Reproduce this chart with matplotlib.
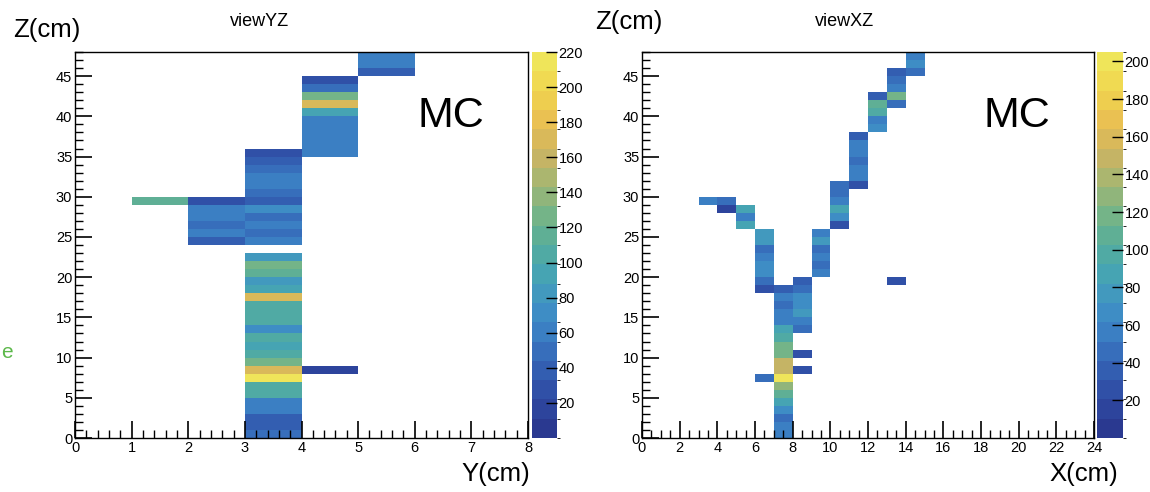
import numpy as np
import matplotlib
matplotlib.use("Agg")
import matplotlib.pyplot as plt
from matplotlib.colors import LinearSegmentedColormap, BoundaryNorm
from matplotlib.ticker import MultipleLocator

plt.rcParams["font.family"] = ["Liberation Sans", "DejaVu Sans"]

# viewYZ: one entry per run of cells (column bin, first Z bin, values going up)
YZ_COLUMNS = [1, 2, 3, 3, 4, 4, 5]
YZ_Z_START = [29, 24, 0, 24, 8, 35, 45]
YZ_VALUES = [
    [110],
    [35, 55, 50, 60, 60, 30],
    [45, 40, 40, 55, 65, 105, 105, 215, 170, 125, 105, 90, 100, 70, 105, 105,
     105, 170, 90, 80, 115, 125, 85],
    [65, 50, 60, 45, 75, 40, 45, 55, 55, 45, 40, 30],
    [15],
    [55, 55, 55, 55, 55, 95, 165, 125, 45, 30],
    [40, 55, 55],
]

# viewXZ
XZ_COLUMNS = [3, 4, 5, 6, 6, 7, 8, 8, 8, 9, 10, 11, 12, 13, 13, 14]
XZ_Z_START = [29, 28, 26, 18, 7, 0, 13, 10, 8, 20, 26, 31, 38, 41, 19, 45]
XZ_VALUES = [
    [60],
    [15, 50],
    [85, 60, 85],
    [30, 45, 65, 62, 55, 45, 78, 75],
    [45],
    [55, 55, 50, 65, 90, 105, 125, 205, 150, 150, 115, 115, 95, 85, 55, 55,
     45, 55, 35],
    [45, 55, 80, 70, 65, 45, 35],
    [25],
    [25],
    [55, 45, 55, 45, 80, 60],
    [30, 65, 85, 60, 50, 45],
    [30, 55, 55, 45, 55, 55, 35],
    [65, 55, 95, 105, 40],
    [45, 115, 60, 45, 35],
    [30],
    [45, 70, 60],
]

Z_MAX = 48

BIRD_COLORS = ["#2a3990", "#2e4aa3", "#3460b3", "#3a7bc3", "#3f92c6",
               "#45a3b4", "#55ad9c", "#76b487", "#a3b673", "#cbb462",
               "#e9bf52", "#f0d44e", "#efe55a"]
cmap = LinearSegmentedColormap.from_list("bird", BIRD_COLORS).resampled(20)


def build_grid(n_cols, columns, z_start, values):
    grid = np.full((Z_MAX, n_cols), np.nan)
    for col, z0, vals in zip(columns, z_start, values):
        for k, v in enumerate(vals):
            grid[z0 + k, col] = v
    return np.ma.masked_invalid(grid)


def style_axes(ax, x_minor):
    ax.xaxis.set_minor_locator(MultipleLocator(x_minor))
    ax.yaxis.set_major_locator(MultipleLocator(5))
    ax.yaxis.set_minor_locator(MultipleLocator(1))
    ax.tick_params(which="major", direction="in", length=12, width=1.2,
                   labelsize=10.5, pad=2, top=False, right=False)
    ax.tick_params(which="minor", direction="in", length=6, width=1,
                   top=False, right=False)
    for spine in ax.spines.values():
        spine.set_linewidth(1)


def draw_panel(fig, ax_rect, cb_rect, grid, x_max, vmax, x_step, x_minor,
               cb_ticks):
    ax = fig.add_axes(ax_rect)
    norm = BoundaryNorm(np.linspace(0, vmax, 21), cmap.N)
    xe = np.arange(grid.shape[1] + 1)
    ze = np.arange(Z_MAX + 1)
    mesh = ax.pcolormesh(xe, ze, grid, cmap=cmap, norm=norm)
    ax.set_xlim(0, x_max)
    ax.set_ylim(0, Z_MAX)
    ax.set_xticks(np.arange(0, x_max + 1, x_step))
    style_axes(ax, x_minor)

    cax = fig.add_axes(cb_rect)
    cb = fig.colorbar(mesh, cax=cax, ticks=cb_ticks)
    cb.outline.set_linewidth(0)
    cax.tick_params(direction="in", length=8, width=1, labelsize=10.5, pad=1)
    return ax


fig = plt.figure(figsize=(11.5, 4.92), dpi=100)

W, H = 1150, 492


def rect(x0, y0, x1, y1):
    return [x0 / W, 1 - y1 / H, (x1 - x0) / W, (y1 - y0) / H]


yz_grid = build_grid(8, YZ_COLUMNS, YZ_Z_START, YZ_VALUES)
xz_grid = build_grid(24, XZ_COLUMNS, XZ_Z_START, XZ_VALUES)

ax1 = draw_panel(fig, rect(75, 52, 528, 438), rect(532, 52, 557, 438),
                 yz_grid, 8, 220, 1, 0.2, np.arange(20, 221, 20))
ax2 = draw_panel(fig, rect(642, 52, 1094, 438), rect(1097, 52, 1123, 438),
                 xz_grid, 24, 205, 2, 0.5, np.arange(20, 201, 20))

for ax in (ax1, ax2):
    ax.text(0.83, 0.835, "MC", transform=ax.transAxes, fontsize=31,
            ha="center", va="center")

fig.text(13 / W, 1 - 30 / H, "Z(cm)", fontsize=18.5, ha="left", va="center")
fig.text(595 / W, 1 - 22 / H, "Z(cm)", fontsize=18.5, ha="left", va="center")
fig.text(530 / W, 1 - 474 / H, "Y(cm)", fontsize=18.5, ha="right", va="center")
fig.text(1118 / W, 1 - 474 / H, "X(cm)", fontsize=18.5, ha="right", va="center")
fig.text(260 / W, 1 - 21 / H, "viewYZ", fontsize=13, ha="center", va="center")
fig.text(845 / W, 1 - 21 / H, "viewXZ", fontsize=13, ha="center", va="center")
fig.text(1 / W, 1 - 353 / H, "e", fontsize=15, color="#5cb84a",
         ha="left", va="center")

fig.savefig("out.png", dpi=100)
